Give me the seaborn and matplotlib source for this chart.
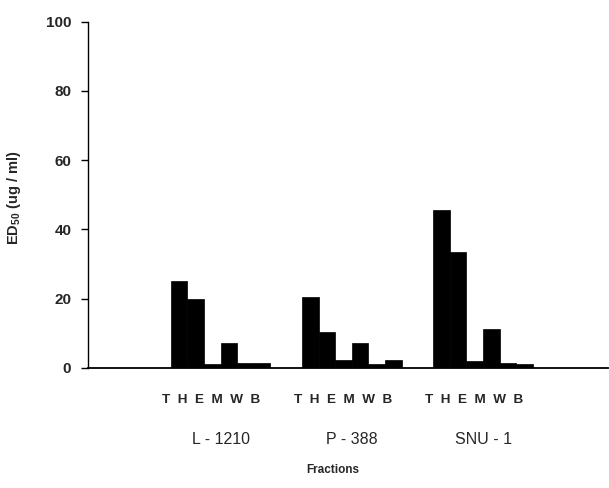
"""
ED50 of fractions T/H/E/M/W/B against three cell lines
"""
import numpy as np
import pandas as pd
import matplotlib
matplotlib.use("Agg")
import matplotlib.pyplot as plt
import matplotlib.transforms as mtransforms
import seaborn as sns


# -----------------------------
# Data
# -----------------------------

cell_lines = ["L - 1210", "P - 388", "SNU - 1"]
fractions = ["T", "H", "E", "M", "W", "B"]

frac_T = [25.0, 20.5, 45.5]
frac_H = [20.0, 10.5, 33.5]
frac_E = [1.2, 2.3, 2.0]
frac_M = [7.3, 7.2, 11.3]
frac_W = [1.5, 1.2, 1.3]
frac_B = [1.3, 2.2, 1.0]

y_ticks = [0, 20, 40, 60, 80, 100]


def build_frame():

    series = [frac_T, frac_H, frac_E, frac_M, frac_W, frac_B]
    rows = []
    for frac, vals in zip(fractions, series):
        for cell, v in zip(cell_lines, vals):
            rows.append({"cell": cell, "fraction": frac, "ed50": v})
    return pd.DataFrame(rows)


# -----------------------------
# Plot
# -----------------------------

def make_plot(df):

    sns.set_theme(style="white")
    plt.rcParams["font.family"] = ["Liberation Sans", "DejaVu Sans"]
    plt.rcParams["mathtext.default"] = "regular"

    fig = plt.figure(figsize=(6.09, 4.88), dpi=100)
    ax = fig.add_axes([0.1445, 0.246, 0.8535, 0.7096])

    group_width = 0.76

    sns.barplot(
        data=df,
        x="cell",
        y="ed50",
        hue="fraction",
        order=cell_lines,
        hue_order=fractions,
        palette=["black"] * len(fractions),
        saturation=1,
        width=group_width,
        edgecolor="black",
        linewidth=0.5,
        legend=False,
        ax=ax,
    )

    ax.set_xlim(-1.01, 2.95)
    ax.set_ylim(0, 100)
    ax.set_yticks(y_ticks)
    ax.set_yticklabels([str(t) for t in y_ticks], fontsize=11, fontweight="bold")

    ax.tick_params(axis="y", direction="out", length=5, width=1, pad=7,
                   left=True, color="black")
    ax.tick_params(axis="x", length=0, pad=46, labelsize=11.5)

    for side in ["top", "right"]:
        ax.spines[side].set_visible(False)
    ax.spines["left"].set_color("black")
    ax.spines["left"].set_linewidth(1.0)
    ax.spines["bottom"].set_color("black")
    ax.spines["bottom"].set_linewidth(1.3)

    # fraction letters under each group, spaced out
    trans = mtransforms.blended_transform_factory(ax.transData, ax.transAxes)
    letters = "  ".join(fractions)
    for g in range(len(cell_lines)):
        ax.text(g - 0.07, -0.092, letters, transform=trans, ha="center",
                va="center", fontsize=9.7, fontweight="bold")

    ax.set_xlabel("Fractions", fontsize=8.5, fontweight="bold")
    ax.xaxis.set_label_coords(0.471, -0.277)
    ax.set_ylabel(r"ED$_{50}$ (ug / ml)", fontsize=10.5, fontweight="bold")
    ax.yaxis.set_label_coords(-0.125, 0.49)

    fig.savefig("out.png", dpi=100)


# -----------------------------
# Main
# -----------------------------

def main():

    df = build_frame()
    make_plot(df)


if __name__ == "__main__":
    main()
